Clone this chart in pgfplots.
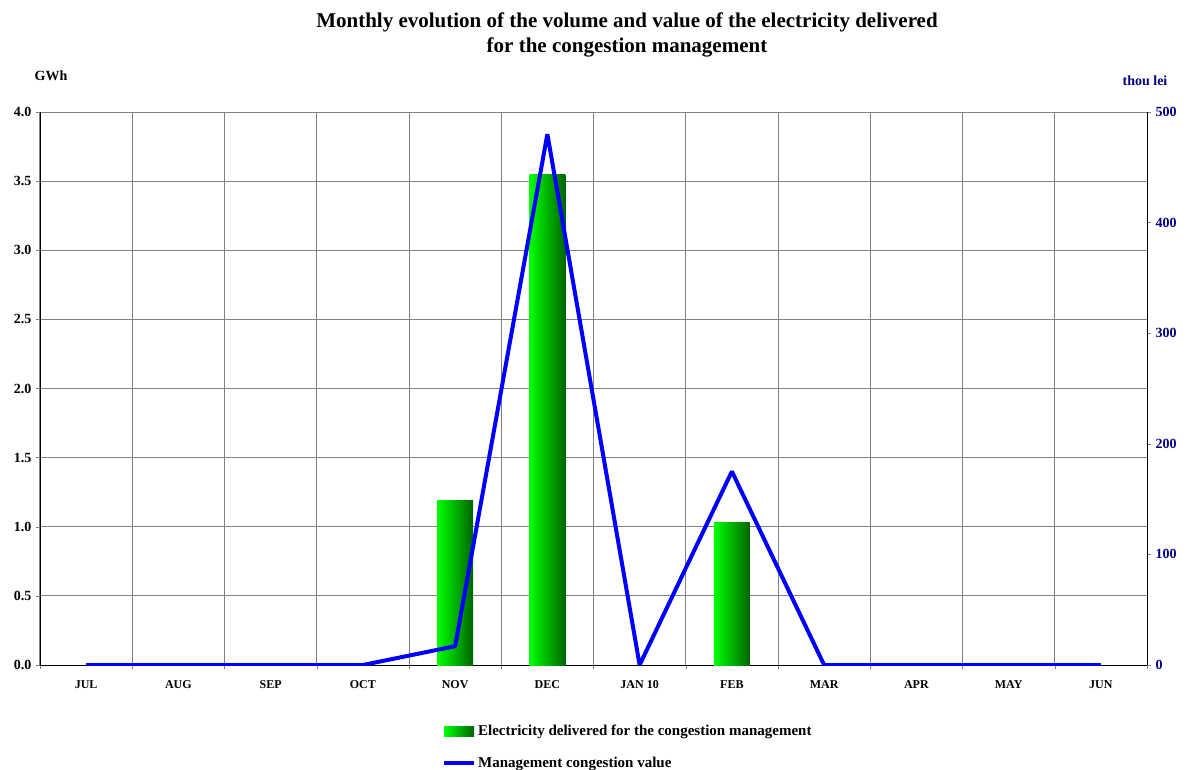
\documentclass[border=0pt]{standalone}
\usepackage{pgfplots}
\pgfplotsset{compat=1.18}
\usepackage{fontspec}
\setmainfont{Liberation Serif}

\definecolor{barlight}{RGB}{0,255,0}
\definecolor{bardark}{RGB}{0,100,0}
\definecolor{lineblue}{RGB}{0,0,255}
\definecolor{axisnavy}{RGB}{0,0,128}
\definecolor{gridgray}{RGB}{128,128,128}

\pgfplotsset{
  common/.style={
    at={(30pt,78pt)}, anchor=south west,
    scale only axis, width=830.25pt, height=414.75pt,
    xmin=-0.5, xmax=11.5, ymin=0,
    tick align=outside, major tick length=3pt,
    /pgf/number format/assume math mode=true,
  },
  greenbar/.style={ybar, bar width=27pt, draw=none,
    left color=barlight, right color=bardark},
  barlegend/.style={legend image code/.code={%
    \path[left color=barlight, right color=bardark, draw=none] (0pt,-3.75pt) rectangle (22.5pt,3.75pt);}},
  linelegend/.style={legend image code/.code={%
    \draw[lineblue, line width=3pt] (0pt,0pt) -- (22.5pt,0pt);}},
}

\begin{document}
\begin{tikzpicture}
\path[use as bounding box] (0,0) rectangle (894.75pt,576.75pt);

% volume (GWh): one shaded bar per month on the left axis
\begin{axis}[common,
  ymax=4,
  axis x line*=bottom, axis y line*=left,
  xtick={-0.5,0.5,...,11.5},
  x tick label as interval,
  xticklabels={JUL,AUG,SEP,OCT,NOV,DEC,JAN 10,FEB,MAR,APR,MAY,JUN},
  xticklabel style={font=\bfseries\fontsize{9}{10}\selectfont, yshift=-5pt},
  ytick={0,0.5,1,1.5,2,2.5,3,3.5,4},
  yticklabel style={font=\bfseries\fontsize{10.5}{12}\selectfont,
    /pgf/number format/.cd, fixed, fixed zerofill, precision=1},
  grid=major, grid style={gridgray, line width=0.75pt},
]
\addplot[greenbar] coordinates {(4,1.19)};
\addplot[greenbar] coordinates {(5,3.55)};
\addplot[greenbar] coordinates {(7,1.03)};
\end{axis}

% value (thou lei) as a line on the right axis
\begin{axis}[common,
  ymax=500,
  axis y line*=right, axis x line=none,
  ytick={0,100,200,300,400,500},
  yticklabel style={font=\bfseries\fontsize{10.5}{12}\selectfont, text=axisnavy},
  legend style={at={(0.363,-0.104)}, anchor=north west, draw=none, fill=none,
    inner sep=0pt, row sep=11.5pt, nodes={inner sep=1.5pt},
    font=\bfseries\fontsize{11.25}{13}\selectfont},
  legend cell align=left,
]
\addlegendimage{barlegend}
\addlegendentry{Electricity delivered for the congestion management}
\addplot[lineblue, line width=3pt, line join=bevel, linelegend]
  coordinates {(0,0) (1,0) (2,0) (3,0) (4,17) (5,480) (6,0) (7,175) (8,0) (9,0) (10,0) (11,0)};
\addlegendentry{Management congestion value}
\end{axis}

\node[font=\bfseries\fontsize{15.75}{18.75}\selectfont, align=center] at (470.25pt,550.9pt)
  {Monthly evolution of the volume and value of the electricity delivered\\for the congestion management};
\node[font=\bfseries\fontsize{10.5}{12}\selectfont] at (38.25pt,519.8pt) {GWh};
\node[font=\bfseries\fontsize{10.5}{12}\selectfont, text=axisnavy] at (858.75pt,516pt) {thou lei};
\end{tikzpicture}
\end{document}
